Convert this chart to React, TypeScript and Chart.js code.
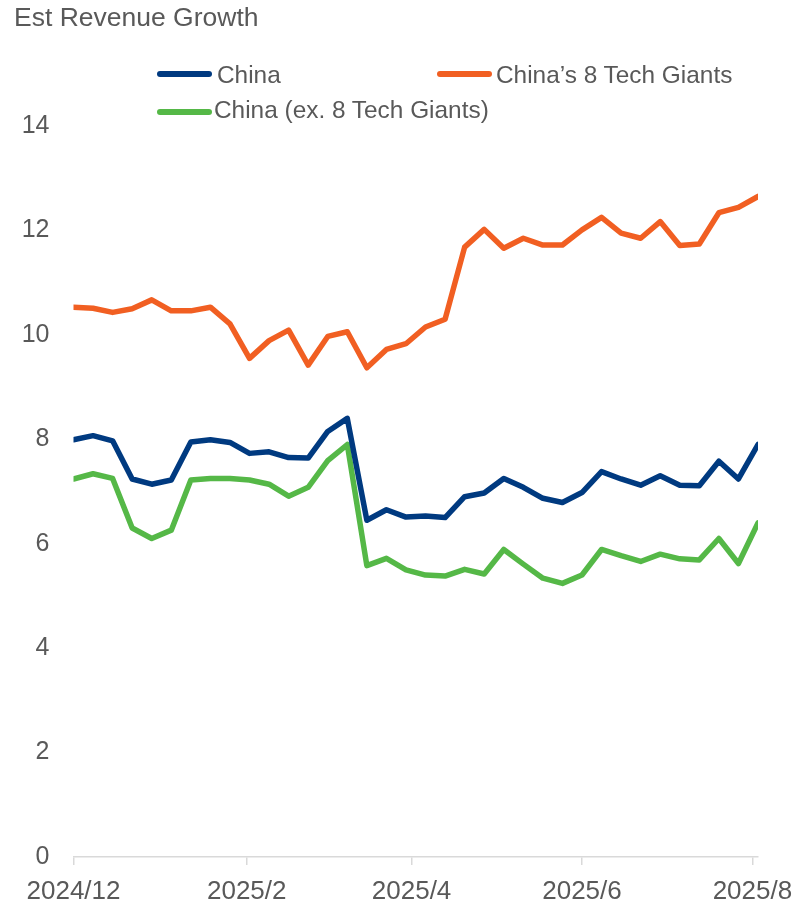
import React, { useEffect, useRef } from 'react';
import { Chart, registerables } from 'chart.js';

Chart.register(...registerables);

const weekDates = [
  '2024-12-01', '2024-12-08', '2024-12-15', '2024-12-22', '2024-12-29',
  '2025-01-05', '2025-01-12', '2025-01-19', '2025-01-26',
  '2025-02-02', '2025-02-09', '2025-02-16', '2025-02-23',
  '2025-03-02', '2025-03-09', '2025-03-16', '2025-03-23', '2025-03-30',
  '2025-04-06', '2025-04-13', '2025-04-20', '2025-04-27',
  '2025-05-04', '2025-05-11', '2025-05-18', '2025-05-25',
  '2025-06-01', '2025-06-08', '2025-06-15', '2025-06-22', '2025-06-29',
  '2025-07-06', '2025-07-13', '2025-07-20', '2025-07-27',
  '2025-08-03',
];

const chinaValues = [
  7.99, 8.07, 7.97, 7.24, 7.14, 7.22, 7.95, 7.99, 7.94, 7.73, 7.76, 7.65,
  7.64, 8.15, 8.40, 6.45, 6.65, 6.51, 6.53, 6.50, 6.90, 6.97, 7.25, 7.08,
  6.87, 6.79, 6.98, 7.38, 7.24, 7.12, 7.30, 7.12, 7.11, 7.58, 7.24, 7.90,
];

const techGiantsValues = [
  10.53, 10.51, 10.43, 10.50, 10.67, 10.46, 10.46, 10.53, 10.21, 9.55, 9.89, 10.09,
  9.42, 9.97, 10.06, 9.37, 9.72, 9.83, 10.15, 10.30, 11.68, 12.02, 11.66, 11.85,
  11.72, 11.72, 12.01, 12.25, 11.95, 11.85, 12.17, 11.71, 11.74, 12.34, 12.44, 12.65,
];

const exTechGiantsValues = [
  7.24, 7.34, 7.25, 6.30, 6.10, 6.26, 7.22, 7.25, 7.25, 7.22, 7.14, 6.91,
  7.08, 7.59, 7.90, 5.58, 5.72, 5.50, 5.40, 5.38, 5.51, 5.42, 5.89, 5.61,
  5.34, 5.24, 5.40, 5.89, 5.77, 5.66, 5.80, 5.71, 5.69, 6.10, 5.62, 6.40,
];

const seriesNames = ['China', 'China\u2019s 8 Tech Giants', 'China (ex. 8 Tech Giants)'];
const seriesColors = ['#003a80', '#f15f22', '#55b847'];

const tickDates = ['2024-12-01', '2025-02-01', '2025-04-01', '2025-06-01', '2025-08-01'];
const tickLabels = ['2024/12', '2025/2', '2025/4', '2025/6', '2025/8'];

const yMin = 0;
const yMax = 14;
const yStep = 2;

const titleText = 'Est Revenue Growth';

const FONT = '"Liberation Sans", Arial, Helvetica, sans-serif';
const TEXT = '#595959';

const dayOf = (d: string) => (Date.parse(d) - Date.parse(weekDates[0])) / 86400000;

export default function App() {
  const ref = useRef<HTMLCanvasElement>(null);

  useEffect(() => {
    const canvas = ref.current;
    if (!canvas) return;
    const allValues = [chinaValues, techGiantsValues, exTechGiantsValues];
    const chart = new Chart(canvas, {
      type: 'line',
      data: {
        datasets: allValues.map((vals, k) => ({
          label: seriesNames[k],
          data: weekDates.map((d, i) => ({ x: dayOf(d), y: vals[i] })),
          borderColor: seriesColors[k],
          backgroundColor: seriesColors[k],
          borderWidth: 5.5,
          borderJoinStyle: 'round',
          borderCapStyle: 'round',
          pointRadius: 0,
          tension: 0,
          fill: false,
        })),
      },
      options: {
        responsive: false,
        animation: false,
        layout: { padding: { top: 126, right: 36, left: 0, bottom: 0 } },
        plugins: {
          legend: { display: false },
          title: { display: false },
          tooltip: { enabled: false },
        },
        scales: {
          x: {
            type: 'linear',
            min: 0,
            max: dayOf(weekDates[weekDates.length - 1]),
            afterBuildTicks: (s: any) => {
              s.ticks = tickDates.map((d) => ({ value: dayOf(d) }));
            },
            afterFit: (s: any) => {
              s.height = 46;
              s.paddingLeft = 0;
              s.paddingRight = 0;
            },
            grid: {
              display: true,
              drawOnChartArea: false,
              drawTicks: true,
              tickLength: 8,
              color: '#d9d9d9',
              lineWidth: 1.5,
            },
            border: { display: true, color: '#d9d9d9', width: 1.5 },
            ticks: {
              autoSkip: false,
              maxRotation: 0,
              minRotation: 0,
              padding: 11,
              color: TEXT,
              font: { family: FONT, size: 26 },
              callback: (_v: any, i: number) => tickLabels[i],
            },
          },
          y: {
            min: yMin,
            max: yMax,
            afterFit: (s: any) => {
              s.width = 73.5;
              s.paddingTop = 0;
              s.paddingBottom = 0;
            },
            grid: { display: false, drawTicks: false },
            border: { display: false },
            ticks: {
              stepSize: yStep,
              padding: 24,
              color: TEXT,
              font: { family: FONT, size: 25 },
            },
          },
        },
      },
    } as any);
    return () => chart.destroy();
  }, []);

  const legendItem = (k: number, lineLeft: number, lineTop: number, textLeft: number, textTop: number) => (
    <React.Fragment key={k}>
      <div
        style={{
          position: 'absolute',
          left: lineLeft,
          top: lineTop,
          width: 55,
          height: 6,
          borderRadius: 3,
          background: seriesColors[k],
        }}
      />
      <div
        style={{
          position: 'absolute',
          left: textLeft,
          top: textTop,
          font: `24.4px ${FONT}`,
          lineHeight: '24px',
          color: TEXT,
          whiteSpace: 'nowrap',
        }}
      >
        {seriesNames[k]}
      </div>
    </React.Fragment>
  );

  return (
    <div style={{ position: 'absolute', left: 0, top: 0, width: 794, height: 903, background: '#fff' }}>
      <canvas ref={ref} width={794} height={903} style={{ display: 'block', width: 794, height: 903 }} />
      <div
        style={{
          position: 'absolute',
          left: 14,
          top: 4,
          font: `26.5px ${FONT}`,
          lineHeight: '26px',
          color: TEXT,
          whiteSpace: 'nowrap',
        }}
      >
        {titleText}
      </div>
      {legendItem(0, 157, 71, 217, 63)}
      {legendItem(1, 437, 71, 496, 63)}
      {legendItem(2, 157, 108.5, 214, 98)}
    </div>
  );
}
